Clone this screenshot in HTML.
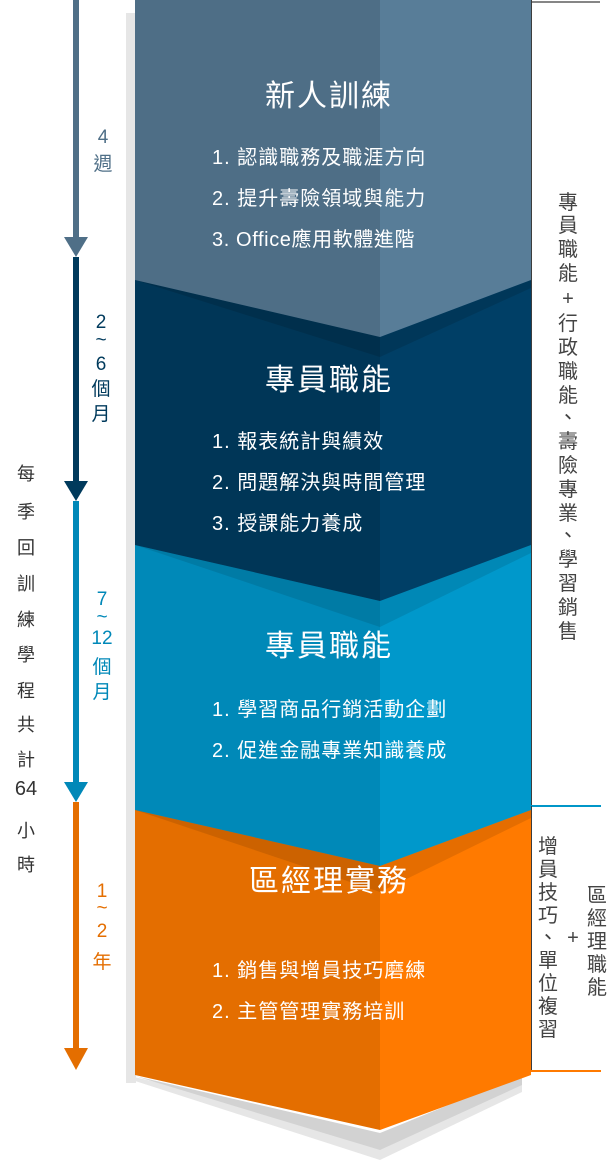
<!DOCTYPE html>
<html><head><meta charset="utf-8"><style>
html,body{margin:0;padding:0;background:#fff;}
svg{display:block;}
text{font-family:"Liberation Sans","Noto Sans CJK TC",sans-serif;}
</style></head><body>
<svg width="608" height="1168" viewBox="0 0 608 1168" xmlns="http://www.w3.org/2000/svg">
<rect x="126" y="13" width="10" height="1070" fill="#e6e6e6"/>
<polygon points="126,1078 380,1160 522,1092 522,1075 380,1135 126,1075" fill="#e6e6e6"/>
<polygon points="135,1076 380,1150 522,1085 522,1075 380,1133" fill="#d2d2d2"/>

<polygon points="135,0 380,0 380,1130 135,1075" fill="#e46e00"/>
<polygon points="380,0 531,0 531,1075 380,1130" fill="#ff7a00"/>
<polygon points="135,810 380,866 531,810 531,818 380,892" fill="#000" opacity="0.1"/>
<polygon points="135,0 380,0 380,866 135,810" fill="#0089b8"/>
<polygon points="380,0 531,0 531,810 380,866" fill="#0098cb"/>
<polygon points="135,545 380,601 531,545 531,553 380,627" fill="#000" opacity="0.1"/>
<polygon points="135,0 380,0 380,601 135,545" fill="#003657"/>
<polygon points="380,0 531,0 531,545 380,601" fill="#003f66"/>
<polygon points="135,280 380,337 531,280 531,288 380,357" fill="#000" opacity="0.12"/>
<polygon points="135,0 380,0 380,337 135,280" fill="#4e6e86"/>
<polygon points="380,0 531,0 531,280 380,337" fill="#587d98"/>

<line x1="531.5" y1="0" x2="531.5" y2="806" stroke="#3d3d3d" stroke-width="1"/>
<line x1="531" y1="2" x2="600" y2="2" stroke="#3d3d3d" stroke-width="1.2"/>
<line x1="531" y1="806" x2="601" y2="806" stroke="#0096c8" stroke-width="2"/>
<line x1="531.5" y1="806" x2="531.5" y2="1071" stroke="#3d3d3d" stroke-width="1"/>
<line x1="531" y1="1071" x2="601" y2="1071" stroke="#ff7a00" stroke-width="2"/>

<rect x="73" y="0" width="6" height="240" fill="#4f6f87"/>
<polygon points="64,237 88,237 76,257" fill="#4f6f87"/>
<rect x="73" y="257" width="6" height="228" fill="#003a5c"/>
<polygon points="64,481 88,481 76,501" fill="#003a5c"/>
<rect x="73" y="501" width="6" height="283" fill="#0088b8"/>
<polygon points="64,782 88,782 76,802" fill="#0088b8"/>
<rect x="73" y="802" width="6" height="250" fill="#e46e00"/>
<polygon points="64,1048 88,1048 76,1070" fill="#e46e00"/>

<g font-size="19" text-anchor="middle" fill="#4f6f87">
<text x="103" y="143">4</text><text x="103" y="170">週</text></g>
<g font-size="19" text-anchor="middle" fill="#003a5c">
<text x="101" y="328">2</text><text x="101" y="346">~</text><text x="101" y="370">6</text><text x="101" y="395">個</text><text x="101" y="420">月</text></g>
<g font-size="19" text-anchor="middle" fill="#0088b8">
<text x="102" y="605">7</text><text x="102" y="623">~</text><text x="102" y="644">12</text><text x="102" y="673">個</text><text x="102" y="698">月</text></g>
<g font-size="19" text-anchor="middle" fill="#e46e00">
<text x="102" y="897">1</text><text x="102" y="914">~</text><text x="102" y="937">2</text><text x="102" y="968">年</text></g>

<g font-size="18" text-anchor="middle" fill="#333">
<text x="26" y="480">每</text><text x="26" y="518">季</text><text x="26" y="554">回</text><text x="26" y="590">訓</text><text x="26" y="626">練</text><text x="26" y="661">學</text><text x="26" y="697">程</text><text x="26" y="731">共</text><text x="26" y="766">計</text><text x="26" y="795" font-size="20">64</text><text x="26" y="837">小</text><text x="26" y="871">時</text></g>

<g fill="#fff">
<text x="329" y="106" font-size="30" letter-spacing="2" text-anchor="middle">新人訓練</text>
<text x="212" y="164" font-size="20" letter-spacing="1">1. 認識職務及職涯方向</text>
<text x="212" y="205" font-size="20" letter-spacing="1">2. 提升壽險領域與能力</text>
<text x="212" y="246" font-size="20" letter-spacing="0.6">3. Office應用軟體進階</text>

<text x="329" y="390" font-size="30" letter-spacing="2" text-anchor="middle">專員職能</text>
<text x="212" y="448" font-size="20" letter-spacing="1">1. 報表統計與績效</text>
<text x="212" y="489" font-size="20" letter-spacing="1">2. 問題解決與時間管理</text>
<text x="212" y="530" font-size="20" letter-spacing="1">3. 授課能力養成</text>

<text x="329" y="656" font-size="30" letter-spacing="2" text-anchor="middle">專員職能</text>
<text x="212" y="716" font-size="20" letter-spacing="1">1. 學習商品行銷活動企劃</text>
<text x="212" y="757" font-size="20" letter-spacing="1">2. 促進金融專業知識養成</text>

<text x="329" y="891" font-size="30" letter-spacing="2" text-anchor="middle">區經理實務</text>
<text x="212" y="977" font-size="20" letter-spacing="1">1. 銷售與增員技巧磨練</text>
<text x="212" y="1018" font-size="20" letter-spacing="1">2. 主管管理實務培訓</text>
</g>

<g font-size="20" fill="#444" text-anchor="middle">
<text x="568" y="209">專</text><text x="568" y="232">員</text><text x="568" y="256">職</text><text x="568" y="280">能</text><text x="568" y="305">+</text><text x="568" y="330">行</text><text x="568" y="354">政</text><text x="568" y="378">職</text><text x="568" y="402">能</text><text x="568" y="424">、</text><text x="568" y="448">壽</text><text x="568" y="472">險</text><text x="568" y="496">專</text><text x="568" y="520">業</text><text x="568" y="542">、</text><text x="568" y="566">學</text><text x="568" y="590">習</text><text x="568" y="614">銷</text><text x="568" y="638">售</text>

<text x="548" y="853">增</text><text x="548" y="876">員</text><text x="548" y="899">技</text><text x="548" y="922">巧</text><text x="548" y="944">、</text><text x="548" y="967">單</text><text x="548" y="990">位</text><text x="548" y="1013">複</text><text x="548" y="1036">習</text>
<text x="573" y="944">+</text>
<text x="597" y="902">區</text><text x="597" y="925">經</text><text x="597" y="948">理</text><text x="597" y="971">職</text><text x="597" y="994">能</text>
</g>
</svg>
</body></html>
